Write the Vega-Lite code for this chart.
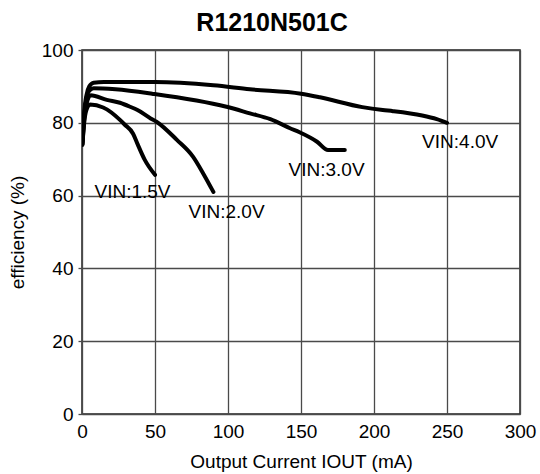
{
  "$schema": "https://vega.github.io/schema/vega-lite/v6.json",
  "width": 438,
  "height": 364,
  "autosize": {"type": "none"},
  "padding": {"left": 82, "top": 50, "right": 20, "bottom": 60},
  "background": "white",
  "title": {
    "text": "R1210N501C",
    "font": "Liberation Sans",
    "fontSize": 25,
    "fontWeight": "bold",
    "color": "black",
    "anchor": "middle",
    "frame": "bounds",
    "offset": 5
  },
  "config": {
    "font": "Liberation Sans",
    "view": {"stroke": "#222", "strokeWidth": 1.5},
    "axis": {
      "labelFont": "Liberation Sans",
      "titleFont": "Liberation Sans",
      "labelFontSize": 19,
      "titleFontSize": 19,
      "titleFontWeight": "normal",
      "labelColor": "black",
      "titleColor": "black",
      "gridColor": "#4a4a4a",
      "gridWidth": 1.3,
      "gridOpacity": 1,
      "domain": false,
      "tickColor": "#4a4a4a",
      "tickWidth": 1.3
    }
  },
  "datasets": {
    "curves": [
      {"series": "4.0", "iout": 0.3, "eff": 75},
      {"series": "4.0", "iout": 1.5, "eff": 83},
      {"series": "4.0", "iout": 3, "eff": 87.5},
      {"series": "4.0", "iout": 5, "eff": 90},
      {"series": "4.0", "iout": 8, "eff": 91},
      {"series": "4.0", "iout": 15, "eff": 91.2},
      {"series": "4.0", "iout": 50, "eff": 91.2},
      {"series": "4.0", "iout": 90, "eff": 90.3},
      {"series": "4.0", "iout": 115, "eff": 89.2},
      {"series": "4.0", "iout": 150, "eff": 88},
      {"series": "4.0", "iout": 163, "eff": 87},
      {"series": "4.0", "iout": 192, "eff": 84.3},
      {"series": "4.0", "iout": 206, "eff": 83.5},
      {"series": "4.0", "iout": 213, "eff": 83.2},
      {"series": "4.0", "iout": 233, "eff": 82},
      {"series": "4.0", "iout": 243, "eff": 81},
      {"series": "4.0", "iout": 250, "eff": 80},
      {"series": "3.0", "iout": 0.3, "eff": 74.5},
      {"series": "3.0", "iout": 1.5, "eff": 82},
      {"series": "3.0", "iout": 3, "eff": 86.5},
      {"series": "3.0", "iout": 5, "eff": 88.8},
      {"series": "3.0", "iout": 8, "eff": 89.5},
      {"series": "3.0", "iout": 23, "eff": 89.2},
      {"series": "3.0", "iout": 48, "eff": 88},
      {"series": "3.0", "iout": 99, "eff": 84.4},
      {"series": "3.0", "iout": 115, "eff": 82.6},
      {"series": "3.0", "iout": 129, "eff": 81},
      {"series": "3.0", "iout": 142.5, "eff": 78.5},
      {"series": "3.0", "iout": 149, "eff": 77.4},
      {"series": "3.0", "iout": 161, "eff": 74.8},
      {"series": "3.0", "iout": 168.5, "eff": 72.5},
      {"series": "3.0", "iout": 180, "eff": 72.5},
      {"series": "2.0", "iout": 0.3, "eff": 74},
      {"series": "2.0", "iout": 1.5, "eff": 81},
      {"series": "2.0", "iout": 3, "eff": 85},
      {"series": "2.0", "iout": 6, "eff": 87.6},
      {"series": "2.0", "iout": 17, "eff": 86.3},
      {"series": "2.0", "iout": 26, "eff": 85.5},
      {"series": "2.0", "iout": 33, "eff": 84.4},
      {"series": "2.0", "iout": 38, "eff": 83.5},
      {"series": "2.0", "iout": 47, "eff": 81.2},
      {"series": "2.0", "iout": 51, "eff": 80.3},
      {"series": "2.0", "iout": 65, "eff": 75.3},
      {"series": "2.0", "iout": 76, "eff": 70.7},
      {"series": "2.0", "iout": 83, "eff": 66.1},
      {"series": "2.0", "iout": 90, "eff": 61},
      {"series": "1.5", "iout": 0.3, "eff": 74},
      {"series": "1.5", "iout": 1.5, "eff": 80},
      {"series": "1.5", "iout": 3, "eff": 83.5},
      {"series": "1.5", "iout": 5.5, "eff": 85},
      {"series": "1.5", "iout": 14.5, "eff": 84.2},
      {"series": "1.5", "iout": 26, "eff": 80.8},
      {"series": "1.5", "iout": 29, "eff": 79.6},
      {"series": "1.5", "iout": 35, "eff": 77},
      {"series": "1.5", "iout": 38, "eff": 74.2},
      {"series": "1.5", "iout": 43, "eff": 69.8},
      {"series": "1.5", "iout": 50, "eff": 65.7}
    ],
    "labels": [
      {"label": "VIN:1.5V", "iout": 34.6, "eff": 61},
      {"label": "VIN:2.0V", "iout": 99, "eff": 55.5},
      {"label": "VIN:3.0V", "iout": 167.5, "eff": 67},
      {"label": "VIN:4.0V", "iout": 259, "eff": 74.7}
    ]
  },
  "layer": [
    {
      "data": {"name": "curves"},
      "mark": {"type": "line", "color": "black", "strokeWidth": 4, "interpolate": "monotone", "strokeCap": "round", "strokeJoin": "round", "clip": true},
      "encoding": {
        "x": {
          "field": "iout", "type": "quantitative",
          "scale": {"domain": [0, 300], "nice": false, "zero": true},
          "axis": {"values": [0, 50, 100, 150, 200, 250, 300], "title": "Output Current IOUT (mA)", "tickSize": 0, "ticks": false, "labelPadding": 8, "titlePadding": 11, "labelFlush": false}
        },
        "y": {
          "field": "eff", "type": "quantitative",
          "scale": {"domain": [0, 100], "nice": false},
          "axis": {"values": [0, 20, 40, 60, 80, 100], "title": "efficiency (%)", "tickSize": 4, "labelPadding": 5, "titlePadding": 14, "labelFlush": false}
        },
        "detail": {"field": "series", "type": "nominal"}
      }
    },
    {
      "data": {"name": "labels"},
      "mark": {"type": "text", "font": "Liberation Sans", "fontSize": 19, "color": "black", "align": "center", "baseline": "middle"},
      "encoding": {
        "x": {"field": "iout", "type": "quantitative"},
        "y": {"field": "eff", "type": "quantitative"},
        "text": {"field": "label"}
      }
    }
  ]
}
